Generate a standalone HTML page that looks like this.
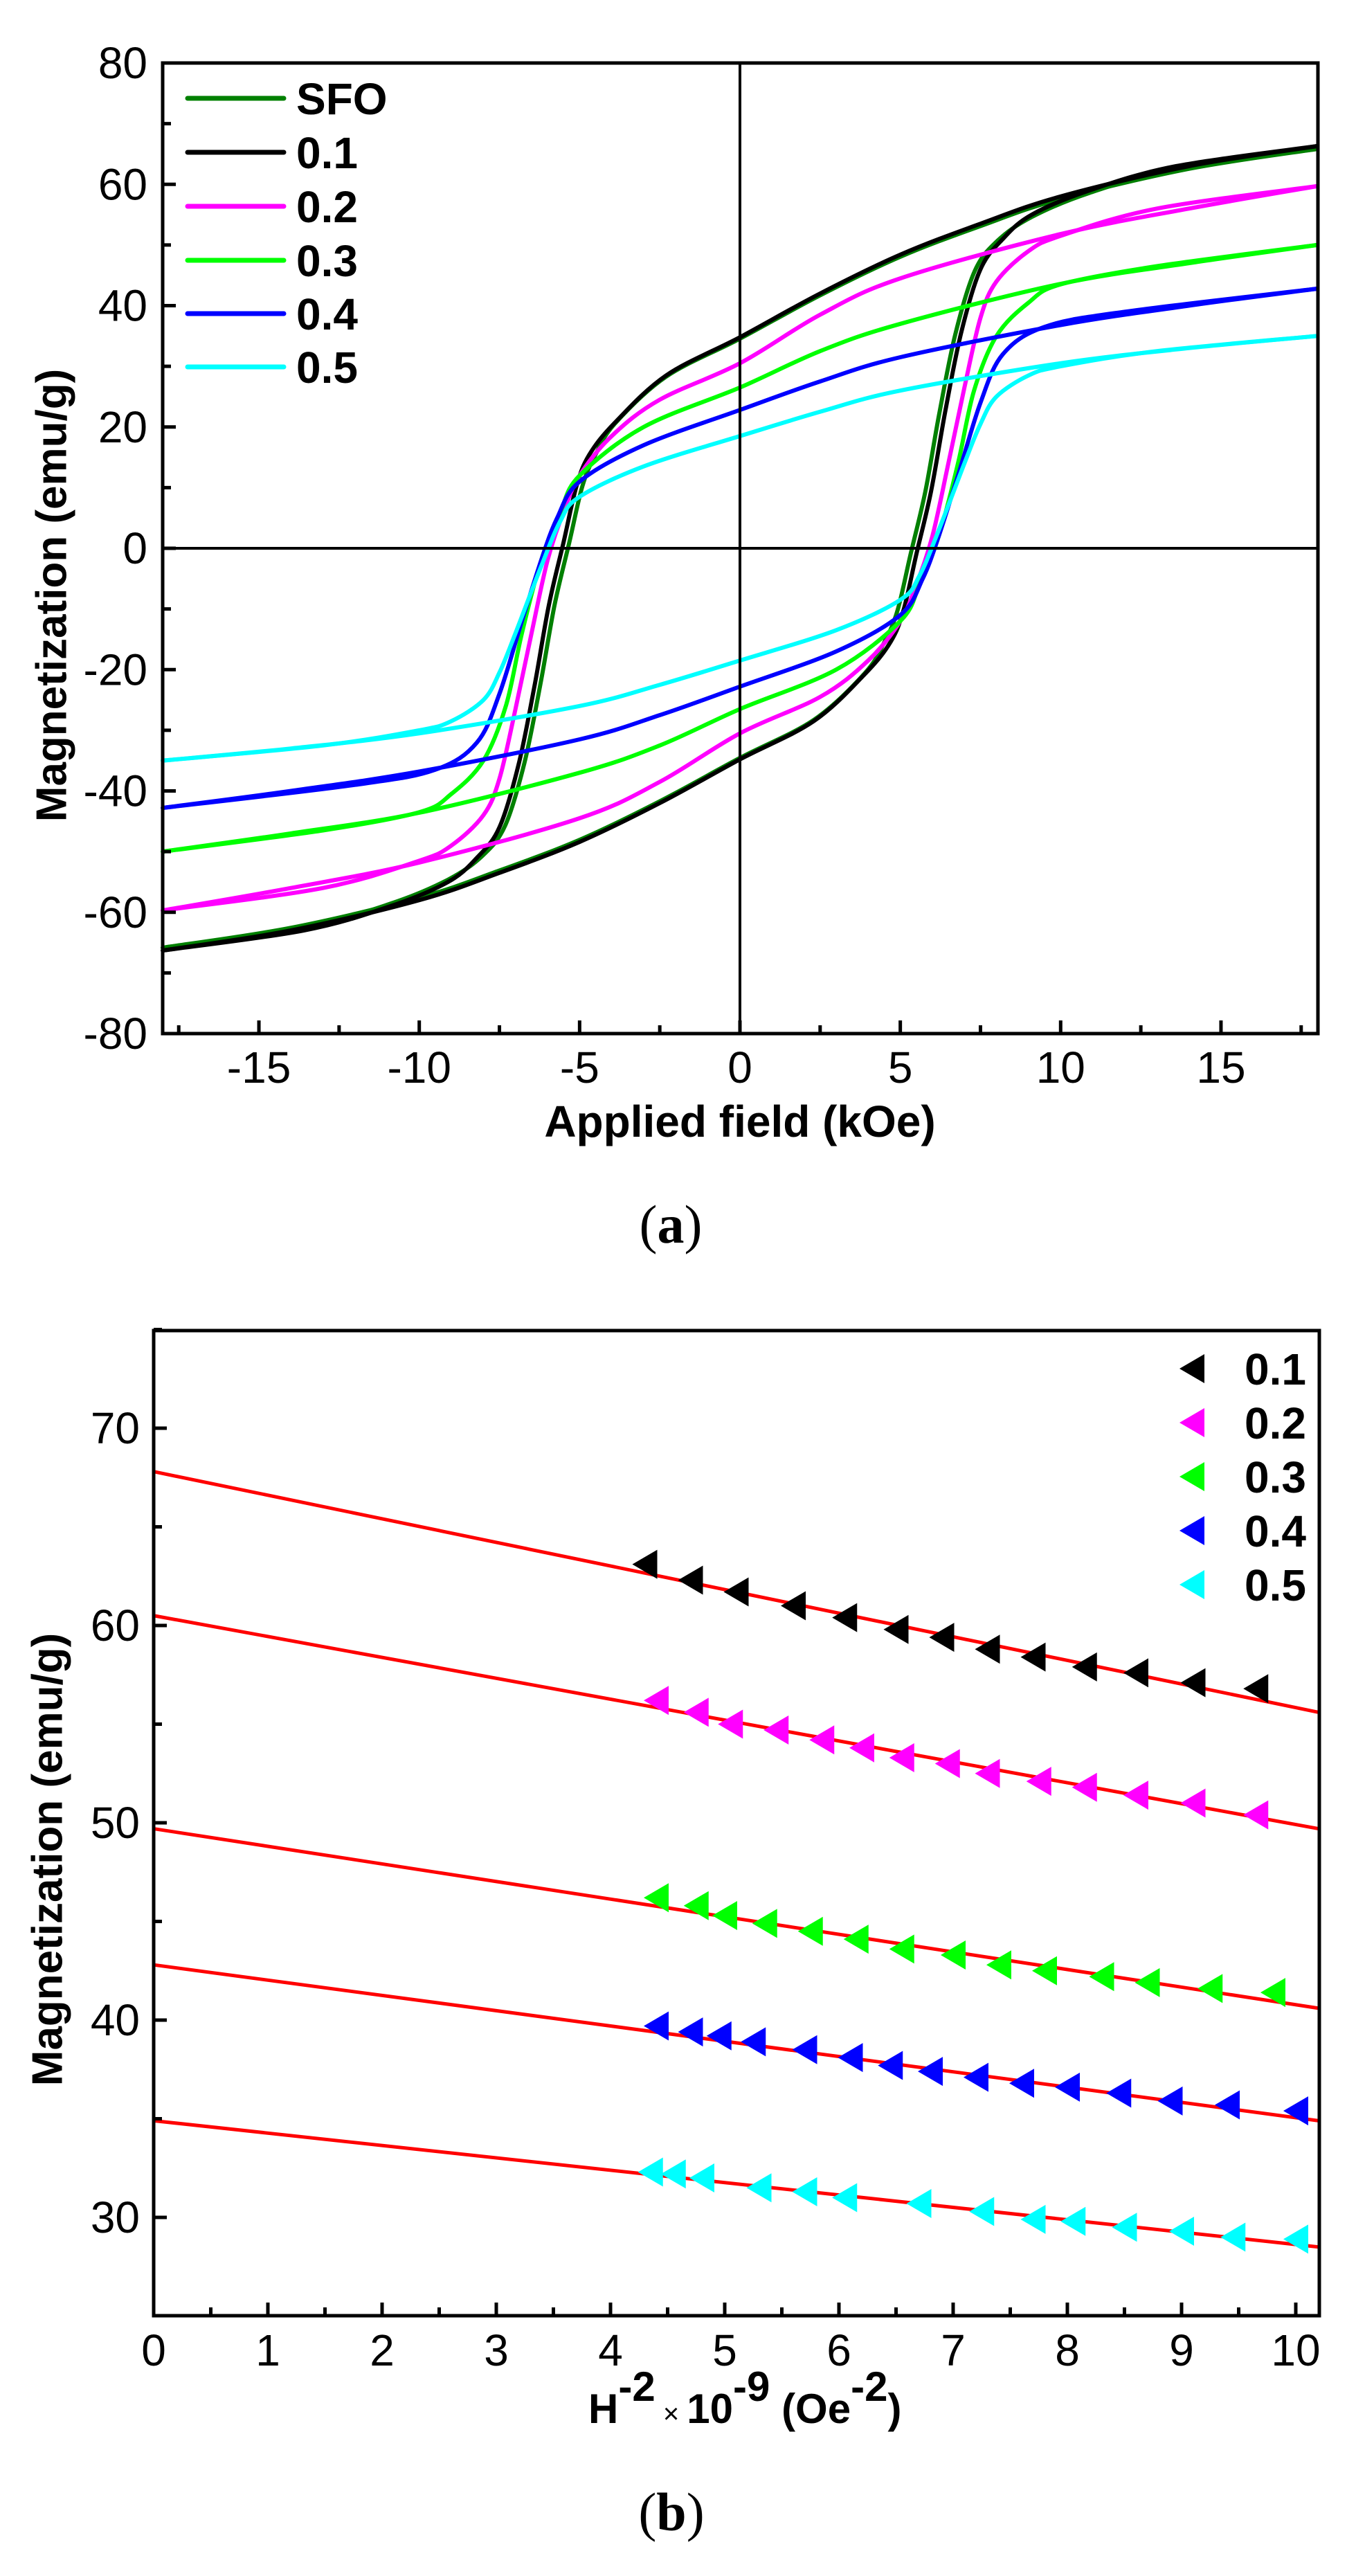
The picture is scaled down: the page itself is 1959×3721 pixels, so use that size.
<!DOCTYPE html>
<html><head><meta charset="utf-8"><style>
html,body{margin:0;padding:0;background:#fff;}
svg{display:block;font-family:"Liberation Sans",Arial,sans-serif;}
</style></head><body>
<svg id="s" width="1959" height="3721" viewBox="0 0 1959 3721" xmlns="http://www.w3.org/2000/svg">
<rect width="1959" height="3721" fill="#fff"/>
<g id="curvesA" fill="none" stroke-width="6" stroke-linejoin="round" stroke-linecap="round"></g>
<g id="axesA" stroke="#000" stroke-width="5" fill="none"></g>
<g id="textA" font-size="64" fill="#000"></g>
<g id="curvesB"></g>
<g id="axesB" stroke="#000" stroke-width="5" fill="none"></g>
<g id="textB" font-size="64" fill="#000"></g>

<text x="75" y="860" font-size="62" font-weight="bold" text-anchor="middle" dominant-baseline="central" transform="rotate(-90 75 860)">Magnetization (emu/g)</text>
<text x="1069" y="1642" font-size="64" font-weight="bold" text-anchor="middle">Applied field (kOe)</text>
<text x="969" y="1795" font-size="78" font-family="Liberation Serif, serif" text-anchor="middle">(<tspan font-weight="bold">a</tspan>)</text>

<text x="69" y="2686" font-size="62" font-weight="bold" text-anchor="middle" dominant-baseline="central" transform="rotate(-90 69 2686)">Magnetization (emu/g)</text>
<text x="850" y="3500" font-size="60" font-weight="bold">H<tspan dy="-32">-2</tspan><tspan dy="32" font-size="40" font-weight="normal"> × </tspan>10<tspan dy="-32">-9</tspan><tspan dy="32"> (Oe</tspan><tspan dy="-32">-2</tspan><tspan dy="32">)</tspan></text>
<text x="970" y="3655" font-size="78" font-family="Liberation Serif, serif" text-anchor="middle">(<tspan font-weight="bold">b</tspan>)</text>
</svg>
<script>
(function(){
var NS="http://www.w3.org/2000/svg";
function el(tag,attrs,parent,txt){var e=document.createElementNS(NS,tag);for(var k in attrs)e.setAttribute(k,attrs[k]);if(txt!=null)e.textContent=txt;parent.appendChild(e);return e;}
function ax(h){return 1069+46.33*h;} function ay(m){return 792-8.7625*m;}
function crPath(pts){
  var d="M"+pts[0][0].toFixed(1)+","+pts[0][1].toFixed(1);
  for(var i=0;i<pts.length-1;i++){
    var p0=pts[i-1]||pts[i],p1=pts[i],p2=pts[i+1],p3=pts[i+2]||p2;
    var c1=[p1[0]+(p2[0]-p0[0])/6,p1[1]+(p2[1]-p0[1])/6];
    var c2=[p2[0]-(p3[0]-p1[0])/6,p2[1]-(p3[1]-p1[1])/6];
    d+="C"+c1[0].toFixed(1)+","+c1[1].toFixed(1)+" "+c2[0].toFixed(1)+","+c2[1].toFixed(1)+" "+p2[0].toFixed(1)+","+p2[1].toFixed(1);
  }
  return d;
}
var up01=[[18,66.3],[14,63],[10,58],[7.5,53.5],[5,48.4],[2.5,42],[0,34.8],[-2.3,28.5],[-3.9,20.7],[-4.7,15.4],[-5.1,10.2],[-5.5,1],[-5.96,-9.4],[-6.4,-22.5],[-6.9,-35.6],[-7.5,-46],[-8.2,-51],[-9.1,-55],[-10.9,-59],[-13.6,-63],[-18,-66.3]];
var upSFO=up01.map(function(p){var h=p[0];var sh=(h<-4&&h>-9)?0.18:0;return [h+sh,p[1]*0.993];});
var up02=[[18,59.7],[14,56],[10,51.8],[5,44.5],[2.5,38.5],[0,30.5],[-2.5,24.5],[-4,18.5],[-5,12],[-5.5,6],[-6,-2],[-6.5,-14],[-7,-26.5],[-7.5,-38],[-8,-44],[-9,-49],[-10,-51.5],[-13,-56],[-18,-59.7]];
var up03=[[18,50],[14,47],[10,43.6],[5,37],[2.5,32.5],[0,26.5],[-3,20],[-5,12],[-5.6,6],[-6.2,-2],[-6.8,-14],[-7.3,-26],[-8,-35],[-9,-40.5],[-10,-43.5],[-13,-46.5],[-18,-50]];
var up04=[[18,42.8],[14,40],[10,36.8],[5,31.5],[2.5,27.5],[0,22.8],[-3,17],[-5,11],[-5.7,5],[-6.2,-2],[-6.8,-12],[-7.5,-24],[-8.2,-32],[-9.5,-36.5],[-12,-39],[-18,-42.8]];
var up05=[[18,35],[14,33],[10,30.5],[5,26],[2.5,22.5],[0,18.5],[-3,13.5],[-5,8.5],[-5.6,4.5],[-6.2,-3],[-7,-14],[-7.5,-20.5],[-8,-25],[-9,-28.5],[-10,-30],[-13,-32.5],[-18,-35]];
var series=[[upSFO,"#008000"],[up01,"#000"],[up02,"#ff00ff"],[up03,"#00ff00"],[up04,"#0000ff"],[up05,"#00ffff"]];
var gA=document.getElementById("curvesA");
series.forEach(function(s){
  var up=s[0].map(function(p){return [ax(p[0]),ay(p[1])];});
  var lo=s[0].map(function(p){return [ax(-p[0]),ay(-p[1])];});
  el("path",{d:crPath(up),stroke:s[1]},gA);
  el("path",{d:crPath(lo),stroke:s[1]},gA);
});
var A=document.getElementById("axesA");
el("rect",{x:235,y:91,width:1669,height:1402},A);
el("line",{x1:235,y1:792,x2:1904,y2:792,"stroke-width":4},A);
el("line",{x1:1069,y1:91,x2:1069,y2:1493,"stroke-width":4},A);
var TA=document.getElementById("textA");
for(var h=-17.5;h<=17.6;h+=2.5){var x=ax(h);var major=Math.abs(h%5)<0.01;
  el("line",{x1:x,y1:1493,x2:x,y2:1493-(major?19:12)},A);
  if(major) el("text",{x:x,y:1564,"text-anchor":"middle"},TA,(h<0?"-":"")+Math.abs(h));}
for(var m=-80;m<=80;m+=10){var y=ay(m);var major=m%20==0;
  el("line",{x1:235,y1:y,x2:235+(major?19:12),y2:y},A);
  if(major) el("text",{x:213,y:y+22,"text-anchor":"end"},TA,(m<0?"-":"")+Math.abs(m));}
var leg=[["SFO","#008000"],["0.1","#000"],["0.2","#ff00ff"],["0.3","#00ff00"],["0.4","#0000ff"],["0.5","#00ffff"]];
var ly=[142,220,298,376,453,530];
leg.forEach(function(l,i){
  el("line",{x1:271,y1:ly[i],x2:410,y2:ly[i],stroke:l[1],"stroke-width":7,"stroke-linecap":"round"},gA);
  el("text",{x:428,y:ly[i]+23,"font-size":64,"font-weight":"bold"},TA,l[0]);
});
function bx(v){return 222+165*v;} function by(m){return 4058-28.5*m;}
var B=document.getElementById("axesB");var TB=document.getElementById("textB");var CB=document.getElementById("curvesB");
var lines=[[67.8,55.6],[60.5,49.7],[49.7,40.6],[42.8,34.9],[34.9,28.5]];
lines.forEach(function(L){el("line",{x1:bx(0),y1:by(L[0]),x2:bx(10.2),y2:by(L[1]),stroke:"#ff0000","stroke-width":5},CB);});
var pts=[
 ["#000",[4.3,4.7,5.1,5.6,6.05,6.5,6.9,7.3,7.7,8.15,8.6,9.1,9.65],[63.1,62.3,61.7,61.0,60.4,59.8,59.4,58.8,58.4,57.9,57.6,57.1,56.8]],
 ["#ff00ff",[4.4,4.75,5.05,5.45,5.85,6.2,6.55,6.95,7.3,7.75,8.15,8.6,9.1,9.65],[56.2,55.6,55.0,54.7,54.2,53.8,53.3,53.0,52.5,52.1,51.8,51.4,51.0,50.4]],
 ["#00ff00",[4.4,4.75,5.0,5.35,5.75,6.15,6.55,7.0,7.4,7.8,8.3,8.7,9.25,9.8],[46.2,45.8,45.3,44.9,44.5,44.1,43.6,43.3,42.8,42.5,42.2,41.9,41.6,41.4]],
 ["#0000ff",[4.4,4.7,4.95,5.25,5.7,6.1,6.45,6.8,7.2,7.6,8.0,8.45,8.9,9.4,10.0],[39.7,39.4,39.2,38.9,38.5,38.1,37.7,37.4,37.1,36.8,36.6,36.3,35.9,35.7,35.4]],
 ["#00ffff",[4.35,4.55,4.8,5.3,5.7,6.05,6.7,7.25,7.7,8.05,8.5,9.0,9.45,10.0],[32.3,32.2,32.0,31.5,31.3,31.0,30.7,30.3,29.9,29.8,29.5,29.3,29.0,28.9]]];
function tri(cx,cy,c,par){el("path",{d:"M"+(cx-18)+","+cy+"L"+(cx+18)+","+(cy-21)+"L"+(cx+18)+","+(cy+21)+"Z",fill:c},par);}
pts.forEach(function(s){for(var i=0;i<s[1].length;i++)tri(bx(s[1][i]),by(s[2][i]),s[0],CB);});
el("rect",{x:222,y:1922,width:1684,height:1423},B);
for(var v=0.5;v<=10.01;v+=0.5){var x=bx(v);var major=Math.abs(v-Math.round(v))<0.01;
  el("line",{x1:x,y1:3345,x2:x,y2:3345-(major?19:12)},B);}
for(var v=0;v<=10;v++) el("text",{x:bx(v),y:3417,"text-anchor":"middle"},TB,String(v));
for(var m=30;m<=75;m+=5){var y=by(m);var major=m%10==0;
  el("line",{x1:222,y1:y,x2:222+(major?19:12),y2:y},B);
  if(major) el("text",{x:202,y:y+22,"text-anchor":"end"},TB,String(m));}
var lb=["0.1","0.2","0.3","0.4","0.5"],lc=["#000","#ff00ff","#00ff00","#0000ff","#00ffff"];
for(var i=0;i<5;i++){var yy=1977+78*i;tri(1722,yy,lc[i],CB);
  el("text",{x:1798,y:yy+23,"font-size":64,"font-weight":"bold"},TB,lb[i]);}
})();
</script>
</body></html>
